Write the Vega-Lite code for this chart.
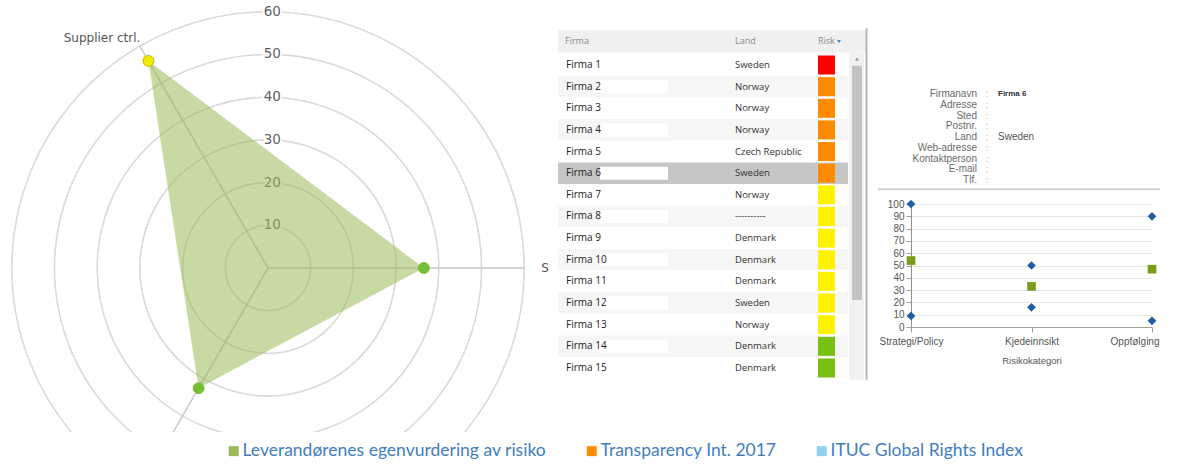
{
  "$schema": "https://vega.github.io/schema/vega-lite/v6.json",
  "padding": 0,
  "background": "#ffffff",
  "config": {"view": {"stroke": null}},
  "bounds": "flush",
  "spacing": 8,
  "resolve": {
    "scale": {"color": "independent", "fill": "independent", "shape": "independent", "size": "independent"},
    "legend": {"color": "independent", "fill": "independent", "shape": "independent", "size": "independent"}
  },
  "hconcat": [
    {
      "width": 550,
      "height": 432,
      "layer": [
        {
          "data": {"values": [{"r": 10}, {"r": 20}, {"r": 30}, {"r": 40}, {"r": 50}, {"r": 60}]},
          "mark": {"type": "point", "shape": "circle", "filled": false, "stroke": "#dadada", "strokeWidth": 1.6, "opacity": 1, "clip": true},
          "encoding": {
            "x": {"datum": 0, "type": "quantitative", "scale": {"domain": [-62.76, 66.04], "nice": false, "zero": false}, "axis": null},
            "y": {"datum": 0, "type": "quantitative", "scale": {"domain": [-38.41, 62.76], "nice": false, "zero": false}, "axis": null},
            "size": {"field": "r", "type": "quantitative", "scale": {"type": "pow", "exponent": 2, "domain": [0, 60], "range": [0, 262554]}, "legend": null}
          }
        },
        {
          "data": {"values": [{"r": 10}, {"r": 20}, {"r": 30}, {"r": 40}, {"r": 50}, {"r": 60}]},
          "mark": {"type": "text", "font": "DejaVu Sans", "fontSize": 13.5, "align": "center", "baseline": "middle", "fill": "#ffffff", "stroke": "#ffffff", "strokeWidth": 4, "strokeJoin": "round"},
          "encoding": {
            "x": {"datum": 1, "type": "quantitative"},
            "y": {"field": "r", "type": "quantitative"},
            "text": {"field": "r", "type": "quantitative"}
          }
        },
        {
          "data": {"values": [{"r": 10}, {"r": 20}, {"r": 30}, {"r": 40}, {"r": 50}, {"r": 60}]},
          "mark": {"type": "text", "font": "DejaVu Sans", "fontSize": 13.5, "align": "center", "baseline": "middle", "fill": "#5f5f5f"},
          "encoding": {
            "x": {"datum": 1, "type": "quantitative"},
            "y": {"field": "r", "type": "quantitative"},
            "text": {"field": "r", "type": "quantitative"}
          }
        },
        {
          "data": {"values": [{"k": 0, "name": "S"}, {"k": 1, "name": "Supplier ctrl."}, {"k": 2, "name": ""}]},
          "transform": [
            {"calculate": "0", "as": "ox"},
            {"calculate": "0", "as": "oy"},
            {"calculate": "60*cos(datum.k*2*PI/3)", "as": "ex"},
            {"calculate": "60*sin(datum.k*2*PI/3)", "as": "ey"}
          ],
          "mark": {"type": "rule", "stroke": "#c8c8c8", "strokeWidth": 1.5, "clip": true},
          "encoding": {
            "x": {"field": "ox", "type": "quantitative"},
            "y": {"field": "oy", "type": "quantitative"},
            "x2": {"field": "ex"},
            "y2": {"field": "ey"}
          }
        },
        {
          "data": {"values": [
            {"k": 0, "axis": "S", "v": 36.5, "serie": "Leverandørenes egenvurdering av risiko"},
            {"k": 1, "axis": "Supplier ctrl.", "v": 56, "serie": "Leverandørenes egenvurdering av risiko"},
            {"k": 2, "axis": "", "v": 32.5, "serie": "Leverandørenes egenvurdering av risiko"}
          ]},
          "transform": [
            {"calculate": "datum.v*cos(datum.k*2*PI/3)", "as": "px"},
            {"calculate": "datum.v*sin(datum.k*2*PI/3)", "as": "py"}
          ],
          "mark": {"type": "line", "interpolate": "linear-closed", "fillOpacity": 0.55, "strokeOpacity": 0, "strokeWidth": 0, "clip": true},
          "encoding": {
            "x": {"field": "px", "type": "quantitative"},
            "y": {"field": "py", "type": "quantitative"},
            "order": {"field": "k", "type": "quantitative"},
            "fill": {
              "field": "serie", "type": "nominal",
              "scale": {"domain": ["Leverandørenes egenvurdering av risiko", "Transparency Int. 2017", "ITUC Global Rights Index"], "range": ["#9bbb59", "#ff8c00", "#92d0f2"]},
              "legend": {
                "orient": "none", "legendX": 225, "legendY": 442, "direction": "horizontal", "title": null,
                "symbolType": "square", "symbolSize": 100, "symbolStrokeWidth": 0, "symbolOpacity": 1,
                "labelFont": "Lato", "labelFontSize": 17.5, "labelColor": "#3f7dc0", "labelOffset": 0,
                "columnPadding": 36, "padding": 0, "labelLimit": 0
              }
            }
          }
        },
        {
          "data": {"values": [
            {"k": 0, "v": 36.5},
            {"k": 1, "v": 56},
            {"k": 2, "v": 32.5}
          ]},
          "transform": [
            {"calculate": "datum.v*cos(datum.k*2*PI/3)", "as": "px"},
            {"calculate": "datum.v*sin(datum.k*2*PI/3)", "as": "py"}
          ],
          "mark": {"type": "point", "shape": "circle", "filled": true, "size": 120, "opacity": 1, "strokeWidth": 1},
          "encoding": {
            "x": {"field": "px", "type": "quantitative"},
            "y": {"field": "py", "type": "quantitative"},
            "fill": {"condition": {"test": "datum.k == 1", "value": "#f2ea00"}, "value": "#78bd38"},
            "stroke": {"condition": {"test": "datum.k == 1", "value": "#c6ba00"}, "value": "#78bd38"}
          }
        },
        {
          "data": {"values": [{"k": 0, "name": "S"}]},
          "transform": [
            {"calculate": "64*cos(datum.k*2*PI/3)", "as": "lx"},
            {"calculate": "64*sin(datum.k*2*PI/3)", "as": "ly"}
          ],
          "mark": {"type": "text", "align": "left", "baseline": "middle", "font": "DejaVu Sans", "fontSize": 12, "fill": "#555555"},
          "encoding": {
            "x": {"field": "lx", "type": "quantitative"},
            "y": {"field": "ly", "type": "quantitative"},
            "text": {"field": "name", "type": "nominal"}
          }
        },
        {
          "data": {"values": [{"k": 1, "name": "Supplier ctrl."}]},
          "transform": [
            {"calculate": "64*cos(datum.k*2*PI/3)", "as": "lx"},
            {"calculate": "64*sin(datum.k*2*PI/3)", "as": "ly"}
          ],
          "mark": {"type": "text", "align": "right", "baseline": "middle", "dx": 9, "dy": 7, "font": "DejaVu Sans", "fontSize": 12, "fill": "#555555"},
          "encoding": {
            "x": {"field": "lx", "type": "quantitative"},
            "y": {"field": "ly", "type": "quantitative"},
            "text": {"field": "name", "type": "nominal"}
          }
        }
      ]
    },
    {
      "width": 345,
      "height": 380,
      "layer": [
        {
          "data": {"values": [{}]},
          "mark": {"type": "rect", "fill": "#f0f0f0"},
          "encoding": {
            "x": {"datum": 0, "type": "quantitative", "scale": {"domain": [0, 345], "nice": false, "zero": false}, "axis": null},
            "x2": {"datum": 308},
            "y": {"datum": -0.62, "type": "quantitative", "scale": {"domain": [-2.004, 15.556], "reverse": true, "nice": false, "zero": false}, "axis": null},
            "y2": {"datum": 0.42}
          }
        },
        {
          "data": {"name": "rows"},
          "transform": [{"calculate": "datum.row - 0.5", "as": "y0"}, {"calculate": "datum.row + 0.5", "as": "y1"}, {"calculate": "0", "as": "xa"}, {"calculate": "290", "as": "xb"}],
          "mark": {"type": "rect"},
          "encoding": {
            "x": {"field": "xa", "type": "quantitative"},
            "x2": {"field": "xb"},
            "y": {"field": "y0", "type": "quantitative"},
            "y2": {"field": "y1"},
            "fill": {"condition": [{"test": "datum.row == 6", "value": "#c6c6c6"}, {"test": "datum.row % 2 == 0", "value": "#f6f6f6"}], "value": "#ffffff"}
          }
        },
        {
          "data": {"name": "rows"},
          "transform": [{"calculate": "datum.row - 0.3", "as": "w0"}, {"calculate": "datum.row + 0.3", "as": "w1"}, {"calculate": "42", "as": "xa"}, {"calculate": "110", "as": "xb"}],
          "mark": {"type": "rect", "fill": "#ffffff"},
          "encoding": {
            "x": {"field": "xa", "type": "quantitative"},
            "x2": {"field": "xb"},
            "y": {"field": "w0", "type": "quantitative"},
            "y2": {"field": "w1"}
          }
        },
        {
          "data": {"values": [{"t": "Firma"}]},
          "mark": {"type": "text", "align": "left", "baseline": "middle", "font": "Open Sans", "fontSize": 9, "fill": "#8a8a8a"},
          "encoding": {"x": {"datum": 7, "type": "quantitative"}, "y": {"datum": -0.12, "type": "quantitative"}, "text": {"field": "t", "type": "nominal"}}
        },
        {
          "data": {"values": [{"t": "Land"}]},
          "mark": {"type": "text", "align": "left", "baseline": "middle", "font": "Open Sans", "fontSize": 9, "fill": "#8a8a8a"},
          "encoding": {"x": {"datum": 177, "type": "quantitative"}, "y": {"datum": -0.12, "type": "quantitative"}, "text": {"field": "t", "type": "nominal"}}
        },
        {
          "data": {"values": [{"t": "Risk"}]},
          "mark": {"type": "text", "align": "left", "baseline": "middle", "font": "Open Sans", "fontSize": 9, "fill": "#8a8a8a"},
          "encoding": {"x": {"datum": 260, "type": "quantitative"}, "y": {"datum": -0.12, "type": "quantitative"}, "text": {"field": "t", "type": "nominal"}}
        },
        {
          "data": {"values": [{}]},
          "mark": {"type": "point", "shape": "triangle-down", "filled": true, "size": 14, "opacity": 1, "fill": "#3b8bd9"},
          "encoding": {"x": {"datum": 281, "type": "quantitative"}, "y": {"datum": -0.08, "type": "quantitative"}}
        },
        {
          "data": {"name": "rows"},
          "mark": {"type": "text", "align": "left", "baseline": "middle", "font": "Open Sans", "fontSize": 10, "fontWeight": 500, "fill": "#222222"},
          "encoding": {"x": {"datum": 8, "type": "quantitative"}, "y": {"field": "row", "type": "quantitative"}, "text": {"field": "firma", "type": "nominal"}}
        },
        {
          "data": {"name": "rows"},
          "mark": {"type": "text", "align": "left", "baseline": "middle", "font": "Open Sans", "fontSize": 9.5, "fill": "#333333"},
          "encoding": {"x": {"datum": 177, "type": "quantitative"}, "y": {"field": "row", "type": "quantitative"}, "text": {"field": "land", "type": "nominal"}}
        },
        {
          "data": {"name": "rows"},
          "transform": [{"calculate": "datum.row - 0.44", "as": "r0"}, {"calculate": "datum.row + 0.44", "as": "r1"}, {"calculate": "260", "as": "xa"}, {"calculate": "277", "as": "xb"}],
          "mark": {"type": "rect"},
          "encoding": {
            "x": {"field": "xa", "type": "quantitative"},
            "x2": {"field": "xb"},
            "y": {"field": "r0", "type": "quantitative"},
            "y2": {"field": "r1"},
            "color": {"field": "risk", "type": "nominal", "scale": {"domain": ["Høy", "Forhøyet", "Middels", "Lav"], "range": ["#ff0000", "#ff8a00", "#fff200", "#76c10f"]}, "legend": null}
          }
        },
        {
          "data": {"values": [{}]},
          "mark": {"type": "rect", "fill": "#f1f1f1"},
          "encoding": {"x": {"datum": 291, "type": "quantitative"}, "x2": {"datum": 306}, "y": {"datum": 0.45, "type": "quantitative"}, "y2": {"datum": 15.55}}
        },
        {
          "data": {"values": [{}]},
          "mark": {"type": "rect", "fill": "#c2c2c2"},
          "encoding": {"x": {"datum": 294, "type": "quantitative"}, "x2": {"datum": 304}, "y": {"datum": 1.03, "type": "quantitative"}, "y2": {"datum": 11.86}}
        },
        {
          "data": {"values": [{}]},
          "mark": {"type": "point", "shape": "triangle-up", "filled": true, "size": 16, "opacity": 1, "fill": "#9a9a9a"},
          "encoding": {"x": {"datum": 299, "type": "quantitative"}, "y": {"datum": 0.72, "type": "quantitative"}}
        },
        {
          "data": {"values": [{}]},
          "mark": {"type": "rule", "stroke": "#b5b5b5", "strokeWidth": 2},
          "encoding": {"x": {"datum": 308.5, "type": "quantitative"}, "y": {"datum": -0.7, "type": "quantitative"}, "y2": {"datum": 15.55}}
        }
      ]
    },
    {
      "bounds": "flush",
      "spacing": 14,
      "vconcat": [
        {
          "width": 241,
          "height": 190,
          "data": {"values": [
            {"i": 0, "label": "Firmanavn", "value": "Firma 6"},
            {"i": 1, "label": "Adresse", "value": ""},
            {"i": 2, "label": "Sted", "value": ""},
            {"i": 3, "label": "Postnr.", "value": ""},
            {"i": 4, "label": "Land", "value": "Sweden"},
            {"i": 5, "label": "Web-adresse", "value": ""},
            {"i": 6, "label": "Kontaktperson", "value": ""},
            {"i": 7, "label": "E-mail", "value": ""},
            {"i": 8, "label": "Tlf.", "value": ""}
          ]},
          "layer": [
            {
              "mark": {"type": "text", "align": "right", "baseline": "middle", "font": "Liberation Sans", "fontSize": 10, "fill": "#6a6a6a"},
              "encoding": {
                "x": {"datum": 66, "type": "quantitative", "scale": {"domain": [0, 241], "nice": false, "zero": false}, "axis": null},
                "y": {"field": "i", "type": "quantitative", "scale": {"domain": [-8.744, 8.93], "reverse": true, "nice": false, "zero": false}, "axis": null},
                "text": {"field": "label", "type": "nominal"}
              }
            },
            {
              "mark": {"type": "text", "align": "center", "baseline": "middle", "font": "Liberation Sans", "fontSize": 9, "fill": "#b0b0b0", "text": ":"},
              "encoding": {
                "x": {"datum": 76, "type": "quantitative"},
                "y": {"field": "i", "type": "quantitative"}
              }
            },
            {
              "transform": [{"filter": "datum.i == 0"}],
              "mark": {"type": "text", "align": "left", "baseline": "middle", "font": "Liberation Sans", "fontSize": 8, "fontWeight": "bold", "fill": "#333333"},
              "encoding": {
                "x": {"datum": 87, "type": "quantitative"},
                "y": {"field": "i", "type": "quantitative"},
                "text": {"field": "value", "type": "nominal"}
              }
            },
            {
              "transform": [{"filter": "datum.i == 4"}],
              "mark": {"type": "text", "align": "left", "baseline": "middle", "font": "Liberation Sans", "fontSize": 10, "fill": "#555555"},
              "encoding": {
                "x": {"datum": 87, "type": "quantitative"},
                "y": {"field": "i", "type": "quantitative"},
                "text": {"field": "value", "type": "nominal"}
              }
            },
            {
              "data": {"values": [{}]},
              "mark": {"type": "rule", "stroke": "#d2d2d2", "strokeWidth": 2},
              "encoding": {
                "x": {"datum": -33, "type": "quantitative"},
                "x2": {"datum": 249},
                "y": {"datum": 8.85, "type": "quantitative"}
              }
            }
          ]
        },
        {
          "width": 241,
          "height": 123,
          "data": {"values": [
            {"kat": "Strategi/Policy", "serie": "Min/maks", "verdi": 100},
            {"kat": "Strategi/Policy", "serie": "Min/maks", "verdi": 9},
            {"kat": "Strategi/Policy", "serie": "Firma 6", "verdi": 54},
            {"kat": "Kjedeinnsikt", "serie": "Min/maks", "verdi": 50},
            {"kat": "Kjedeinnsikt", "serie": "Min/maks", "verdi": 16},
            {"kat": "Kjedeinnsikt", "serie": "Firma 6", "verdi": 33},
            {"kat": "Oppfølging", "serie": "Min/maks", "verdi": 90},
            {"kat": "Oppfølging", "serie": "Min/maks", "verdi": 5},
            {"kat": "Oppfølging", "serie": "Firma 6", "verdi": 47}
          ]},
          "mark": {"type": "point", "filled": true, "opacity": 1, "size": 75},
          "encoding": {
            "x": {
              "field": "kat", "type": "nominal", "sort": ["Strategi/Policy", "Kjedeinnsikt", "Oppfølging"],
              "scale": {"type": "point", "padding": 0},
              "axis": {
                "title": "Risikokategori", "labelAngle": 0, "labelFont": "Liberation Sans", "labelFontSize": 10, "labelColor": "#555555",
                "labelPadding": 4, "tickSize": 5, "tickColor": "#a0a0a0", "domainColor": "#a0a0a0", "grid": false,
                "labelAlign": {"condition": {"test": "datum.value == 'Oppfølging'", "value": "right"}, "value": "center"},
                "labelOffset": {"condition": {"test": "datum.value == 'Oppfølging'", "value": 7}, "value": 0},
                "titleFont": "Liberation Sans", "titleFontSize": 9.5, "titleFontWeight": "normal", "titleColor": "#555555", "titlePadding": 9
              }
            },
            "y": {
              "field": "verdi", "type": "quantitative", "scale": {"domain": [0, 100], "nice": false},
              "axis": {
                "title": null, "values": [0, 10, 20, 30, 40, 50, 60, 70, 80, 90, 100], "labelFont": "Liberation Sans", "labelFontSize": 10,
                "labelColor": "#555555", "labelPadding": 2, "tickSize": 5, "tickColor": "#a0a0a0", "domainColor": "#909090",
                "grid": true, "gridColor": "#e6e6e6"
              }
            },
            "shape": {"field": "serie", "type": "nominal", "scale": {"domain": ["Firma 6", "Min/maks"], "range": ["square", "diamond"]}, "legend": null},
            "color": {"field": "serie", "type": "nominal", "scale": {"domain": ["Firma 6", "Min/maks"], "range": ["#7b9b1c", "#1d5ea6"]}, "legend": null}
          }
        }
      ]
    }
  ],
  "datasets": {
    "rows": [
      {"row": 1, "firma": "Firma 1", "land": "Sweden", "risk": "Høy"},
      {"row": 2, "firma": "Firma 2", "land": "Norway", "risk": "Forhøyet"},
      {"row": 3, "firma": "Firma 3", "land": "Norway", "risk": "Forhøyet"},
      {"row": 4, "firma": "Firma 4", "land": "Norway", "risk": "Forhøyet"},
      {"row": 5, "firma": "Firma 5", "land": "Czech Republic", "risk": "Forhøyet"},
      {"row": 6, "firma": "Firma 6", "land": "Sweden", "risk": "Forhøyet"},
      {"row": 7, "firma": "Firma 7", "land": "Norway", "risk": "Middels"},
      {"row": 8, "firma": "Firma 8", "land": "----------", "risk": "Middels"},
      {"row": 9, "firma": "Firma 9", "land": "Denmark", "risk": "Middels"},
      {"row": 10, "firma": "Firma 10", "land": "Denmark", "risk": "Middels"},
      {"row": 11, "firma": "Firma 11", "land": "Denmark", "risk": "Middels"},
      {"row": 12, "firma": "Firma 12", "land": "Sweden", "risk": "Middels"},
      {"row": 13, "firma": "Firma 13", "land": "Norway", "risk": "Middels"},
      {"row": 14, "firma": "Firma 14", "land": "Denmark", "risk": "Lav"},
      {"row": 15, "firma": "Firma 15", "land": "Denmark", "risk": "Lav"}
    ]
  }
}
